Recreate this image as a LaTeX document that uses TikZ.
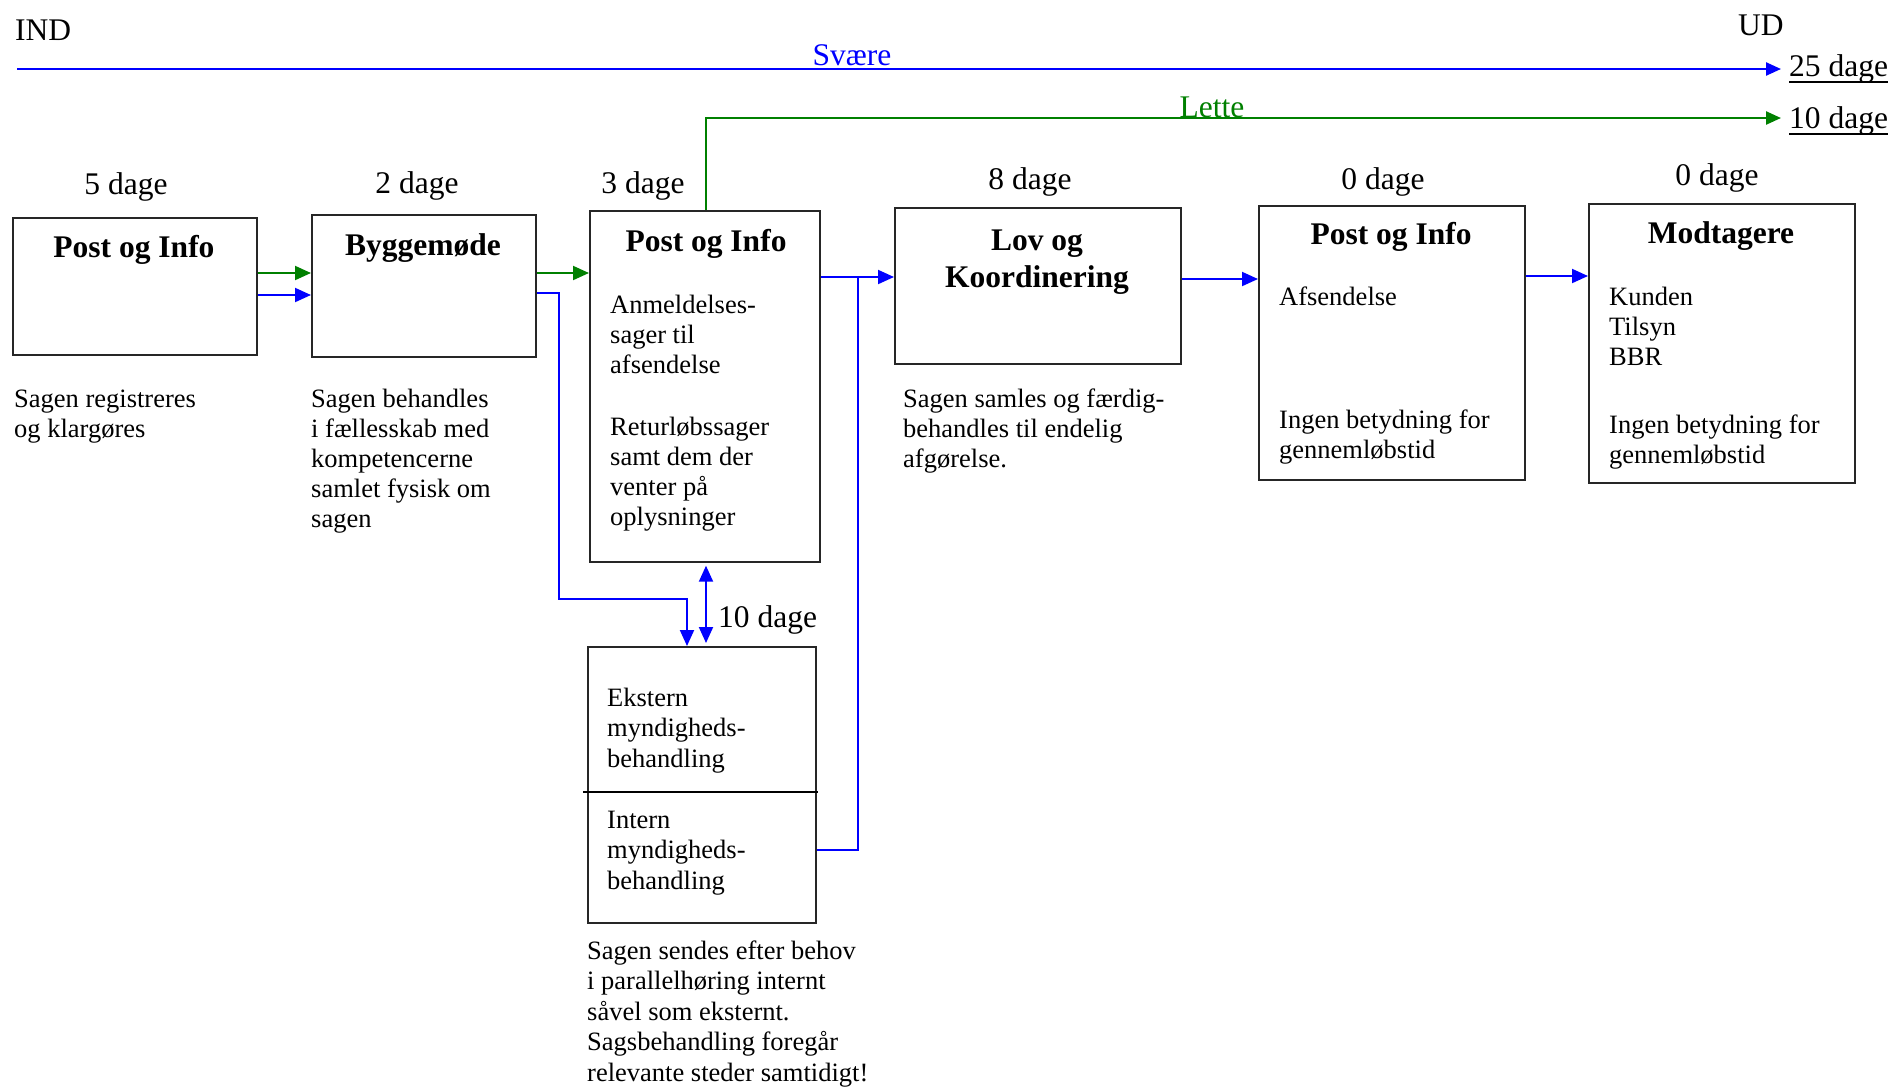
\documentclass[tikz,border=0pt]{standalone}
\usepackage{fontspec}
\setmainfont{Liberation Serif}
\usetikzlibrary{arrows.meta}
\definecolor{flowblue}{RGB}{0,0,255}
\definecolor{flowgreen}{RGB}{0,128,0}
\newcommand{\bigf}{\fontsize{31.5}{37}\selectfont}
\newcommand{\bodyf}{\fontsize{26.5}{30}\selectfont}
\newcommand{\capf}{\fontsize{26.5}{30.6}\selectfont}
\newcommand{\mylines}[1]{\begin{tabular}[t]{@{}l@{}}#1\end{tabular}}
\newcommand{\mycenter}[1]{\begin{tabular}[t]{@{}c@{}}#1\end{tabular}}
\begin{document}
\begin{tikzpicture}[x=1pt,y=-1pt,
  box/.style={draw=black!85, line width=1.7pt, rectangle, anchor=north west, inner sep=0pt},
  title/.style={font=\bigf\bfseries, anchor=base, inner sep=0pt},
  daylabel/.style={font=\bigf, anchor=base, inner sep=0pt},
  txt/.style={font=\bodyf, anchor=base west, inner sep=0pt},
  bline/.style={draw=flowblue, line width=2pt},
  gline/.style={draw=flowgreen, line width=2pt},
  barrow/.style={bline, -{Triangle[length=16pt,width=14pt]}},
  garrow/.style={gline, -{Triangle[length=16pt,width=14pt]}},
  toparrow/.style={line width=2.4pt, -{Triangle[length=15pt,width=13pt]}}
]
\useasboundingbox (0,0) rectangle (1895,1088);

% boxes
\node[box, minimum width=244pt, minimum height=137pt] (b1) at (12,217) {};
\node[box, minimum width=224pt, minimum height=142pt] (b2) at (311,214) {};
\node[box, minimum width=230pt, minimum height=351pt] (b3) at (589,210) {};
\node[box, minimum width=286pt, minimum height=156pt] (b4) at (894,207) {};
\node[box, minimum width=266pt, minimum height=274pt] (b5) at (1258,205) {};
\node[box, minimum width=266pt, minimum height=279pt] (b6) at (1588,203) {};
\node[box, minimum width=228pt, minimum height=276pt] (b7) at (587,646) {};
\coordinate (dl) at (583,792);
\coordinate (dr) at (818,792);
\draw[line width=2pt, black] (dl) -- (dr);

% titles
\node[title] (t1) at (134,257) {Post og Info};
\node[title] (t2) at (423,255) {Byggemøde};
\node[title] (t3) at (706,251) {Post og Info};
\node[title] (t4) at (1037,250) {\mycenter{Lov og\\Koordinering}};
\node[title] (t5) at (1391,244) {Post og Info};
\node[title] (t6) at (1721,243) {Modtagere};

% day labels
\node[daylabel] (d1) at (126,194) {5 dage};
\node[daylabel] (d2) at (417,193) {2 dage};
\node[daylabel] (d3) at (643,193) {3 dage};
\node[daylabel] (d4) at (1030,189) {8 dage};
\node[daylabel] (d5) at (1383,189) {0 dage};
\node[daylabel] (d6) at (1717,185) {0 dage};
\node[daylabel, anchor=base west] (d7) at (718,627) {10 dage};

% top labels
\node[daylabel, anchor=base west] (ind) at (15,40) {IND};
\node[daylabel, anchor=base west] (ud) at (1738,35) {UD};
\node[daylabel, text=flowblue] (svaere) at (852,65) {Svære};
\node[daylabel, text=flowgreen] (lette) at (1212,117) {Lette};
\node[daylabel, anchor=base west] (u25) at (1789,76) {25 dage};
\node[daylabel, anchor=base west] (u10) at (1789,128) {10 dage};
\draw[line width=2pt] ([yshift=-6pt]u25.base west) -- ([yshift=-6pt]u25.base east);
\draw[line width=2pt] ([yshift=-6pt]u10.base west) -- ([yshift=-6pt]u10.base east);

% box texts
\node[txt] (p3a) at (610,313) {\mylines{Anmeldelses-\\sager til\\afsendelse}};
\node[txt] (p3b) at (610,435) {\mylines{Returløbssager\\samt dem der\\venter på\\oplysninger}};
\node[txt] (p5a) at (1279,305) {Afsendelse};
\node[txt] (p5b) at (1279,428) {\mylines{Ingen betydning for\\gennemløbstid}};
\node[txt] (p6a) at (1609,305) {\mylines{Kunden\\Tilsyn\\BBR}};
\node[txt] (p6b) at (1609,433) {\mylines{Ingen betydning for\\gennemløbstid}};
\node[txt, font=\capf] (p7a) at (607,706) {\mylines{Ekstern\\myndigheds-\\behandling}};
\node[txt, font=\capf] (p7b) at (607,828) {\mylines{Intern\\myndigheds-\\behandling}};

% captions
\node[txt] (c1) at (14,407) {\mylines{Sagen registreres\\og klargøres}};
\node[txt] (c2) at (311,407) {\mylines{Sagen behandles\\i fællesskab med\\kompetencerne\\samlet fysisk om\\sagen}};
\node[txt] (c4) at (903,407) {\mylines{Sagen samles og færdig-\\behandles til endelig\\afgørelse.}};
\node[txt, font=\capf] (c7) at (587,959) {\mylines{Sagen sendes efter behov\\i parallelhøring internt\\såvel som eksternt.\\Sagsbehandling foregår\\relevante steder samtidigt!}};

% top flow lines
\coordinate (sv0) at (17,69);
\coordinate (sv1) at (1781,69);
\draw[toparrow, draw=flowblue] (sv0) -- (sv1);
\coordinate (le1) at (1781,118);
\draw[toparrow, draw=flowgreen] ([xshift=1pt]b3.north) |- (le1);

% helper levels
\coordinate (y273) at (0,273);
\coordinate (y293) at (0,293);
\coordinate (y295) at (0,295);
\coordinate (y277) at (0,277);
\coordinate (y279) at (0,279);
\coordinate (y276) at (0,276);
\coordinate (y850) at (0,850);
\coordinate (bx1) at (559,599);
\coordinate (bx2) at (687,599);
\coordinate (jx) at (858,277);
\coordinate (dx) at (706,0);

% connectors
\draw[garrow] (b1.east |- y273) -- (b2.west |- y273);
\draw[barrow] (b1.east |- y295) -- (b2.west |- y295);
\draw[garrow] (b2.east |- y273) -- (b3.west |- y273);
\draw[barrow] (b2.east |- y293) -| (bx1) -- (bx2) -- (bx2 |- b7.north);
\draw[bline, {Triangle[length=16pt,width=14pt]}-{Triangle[length=16pt,width=14pt]}, shorten <=3pt, shorten >=3pt] (dx |- b3.south) -- (dx |- b7.north);
\draw[barrow] (b3.east |- y277) -- (b4.west |- y277);
\draw[bline] (b7.east |- y850) -| (jx);
\draw[barrow] (b4.east |- y279) -- (b5.west |- y279);
\draw[barrow] (b5.east |- y276) -- (b6.west |- y276);
\end{tikzpicture}
\end{document}
